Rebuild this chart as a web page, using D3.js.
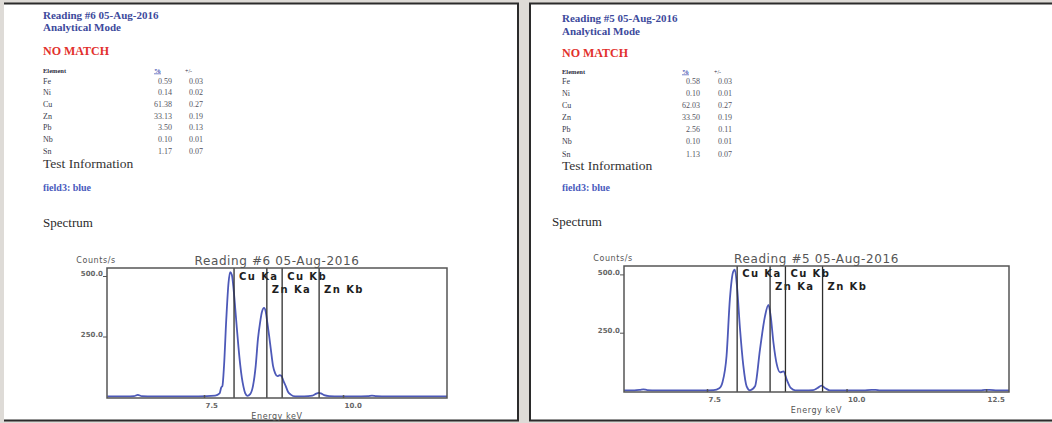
<!DOCTYPE html>
<html>
<head>
<meta charset="utf-8">
<script src="https://cdn.jsdelivr.net/npm/d3@7"></script>
<style>
  html, body { margin: 0; padding: 0; background: #dedbd7; }
  svg { display: block; }
</style>
</head>
<body>
<svg id="chart" width="1052" height="423"></svg>
<script>
// ---- Report headers ----
const readingTitles = ["Reading #6 05-Aug-2016", "Reading #5 05-Aug-2016"];
const modeLabel = "Analytical Mode";
const matchLabel = "NO MATCH";
const fieldLabel = "field3: blue";

// ---- Alloy composition (%, +/-) ----
const elements = ["Fe", "Ni", "Cu", "Zn", "Pb", "Nb", "Sn"];
const percent6 = [0.59, 0.14, 61.38, 33.13, 3.50, 0.10, 1.17];
const error6   = [0.03, 0.02, 0.27, 0.19, 0.13, 0.01, 0.07];
const percent5 = [0.58, 0.10, 62.03, 33.50, 2.56, 0.10, 1.13];
const error5   = [0.03, 0.01, 0.27, 0.19, 0.11, 0.01, 0.07];

// ---- Emission line markers (keV) ----
const lineNames    = ["Cu Ka", "Zn Ka", "Cu Kb", "Zn Kb"];
const lineEnergies = [8.04, 8.63, 8.905, 9.57];
const lineLabelRow = [0, 1, 0, 1];

// ---- Spectrum, reading #6 (keV, counts/s) ----
const energy6 = [5.76, 6.1, 6.24, 6.31, 6.38, 6.6, 7.0, 7.4, 7.7, 7.78, 7.81, 7.83, 7.86, 7.9, 7.94, 7.97,
                 8.0, 8.03, 8.06, 8.09, 8.12, 8.15, 8.18, 8.21, 8.24, 8.28, 8.33, 8.38, 8.43, 8.47, 8.51,
                 8.54, 8.58, 8.61, 8.64, 8.67, 8.7, 8.74, 8.78, 8.82, 8.86, 8.89, 8.93, 8.97, 9.01, 9.06,
                 9.14, 9.3, 9.45, 9.52, 9.56, 9.6, 9.66, 9.75, 9.95, 10.2, 10.45, 10.52, 10.6, 10.8, 11.87];
const counts6 = [3, 3, 4, 9, 4, 3, 3, 3, 6, 15, 40, 45, 130, 320, 470, 516,
                 505, 450, 370, 285, 205, 135, 80, 42, 16, 5, 12, 45, 130, 240, 310,
                 350, 368, 352, 305, 255, 200, 130, 98, 86, 90, 88, 66, 45, 22, 10,
                 3, 3, 6, 14, 17, 15, 8, 4, 3, 3, 4, 6, 4, 3, 3];

// ---- Spectrum, reading #5 (keV, counts/s) ----
const energy5 = [6.013, 6.2, 6.3, 6.36, 6.43, 6.6, 7.0, 7.4, 7.62, 7.72, 7.78, 7.85, 7.91, 7.97, 8.0,
                 8.04, 8.09, 8.15, 8.21, 8.27, 8.36, 8.45, 8.54, 8.6, 8.64, 8.69, 8.75, 8.81, 8.87,
                 8.93, 9.0, 9.08, 9.25, 9.4, 9.48, 9.55, 9.62, 9.7, 9.9, 10.3, 10.45, 10.52, 10.6,
                 11.0, 11.8, 12.4, 12.48, 12.56, 12.7, 12.91];
const counts5 = [3, 3, 5, 7, 4, 3, 3, 3, 4, 12, 40, 150, 395, 512, 520,
                 440, 270, 110, 20, 3, 20, 180, 322, 369, 322, 208, 114, 80, 84,
                 48, 13, 3, 3, 4, 13, 23, 12, 3, 3, 3, 5, 5, 3,
                 3, 3, 3, 5, 5, 3, 3];

// ---- Axis ticks and ranges ----
const xTicks6 = [7.5, 10.0];
const xTicks5 = [7.5, 10.0, 12.5];
const yTicks = [250.0, 500.0];
const xDomain6 = [5.755, 11.87];
const xDomain5 = [6.013, 12.91];
const yDomain6 = [-4, 533];
const yDomain5 = [-4.3, 536];

// ---- Page layout for the two report panels ----
const panels = [
  {
    title: readingTitles[0], pct: percent6, err: error6,
    energy: energy6, counts: counts6, xTicks: xTicks6, xDomain: xDomain6, yDomain: yDomain6,
    box: { x0: 4, x1: 519 }, edge: "right",
    textX: 43, specX: 43, valRight: 172, errRight: 203,
    y: { title: 18.5, mode: 31, match: 54.5, head: 72.5, row0: 83.5, rowStep: 11.67,
         test: 167.5, field: 190.5, spec: 227 },
    plot: { left: 107, right: 447, top: 268, bottom: 398 },
    chartY: { counts: 263, title: 265, energy: 419, lab0: 280, lab1: 293 }
  },
  {
    title: readingTitles[1], pct: percent5, err: error5,
    energy: energy5, counts: counts5, xTicks: xTicks5, xDomain: xDomain5, yDomain: yDomain5,
    box: { x0: 529, x1: 1052 }, edge: "left",
    textX: 562, specX: 552, valRight: 700, errRight: 732,
    y: { title: 21.5, mode: 34.5, match: 56.5, head: 73.5, row0: 83.5, rowStep: 12.17,
         test: 169.5, field: 190.5, spec: 226 },
    plot: { left: 624, right: 1009, top: 266, bottom: 392 },
    chartY: { counts: 261, title: 263, energy: 413, lab0: 277, lab1: 290 }
  }
];

const svg = d3.select("#chart");
const SERIF = "'Liberation Serif', 'Times New Roman', serif";
const SANS = "'DejaVu Sans', Verdana, sans-serif";

panels.forEach((p, i) => {
  const g = svg.append("g");

  // Panel sheet and its borders
  g.append("rect").attr("x", p.box.x0).attr("y", 3)
    .attr("width", p.box.x1 - p.box.x0).attr("height", 418).attr("fill", "#ffffff");
  const border = "#2b2b2b";
  g.append("line").attr("x1", p.box.x0).attr("x2", p.box.x1).attr("y1", 3.5).attr("y2", 3.5)
    .attr("stroke", border).attr("stroke-width", 2);
  g.append("line").attr("x1", p.box.x0).attr("x2", p.box.x1).attr("y1", 420.5).attr("y2", 420.5)
    .attr("stroke", border).attr("stroke-width", 2.2);
  const ex = p.edge === "right" ? p.box.x1 - 1 : p.box.x0 + 1;
  g.append("line").attr("x1", ex).attr("x2", ex).attr("y1", 3).attr("y2", 421)
    .attr("stroke", border).attr("stroke-width", 2);

  // Header block
  const blue = "#3d4a9c";
  g.append("text").attr("x", p.textX).attr("y", p.y.title).text(p.title)
    .attr("font-family", SERIF).attr("font-weight", "bold").attr("font-size", 11).attr("fill", blue);
  g.append("text").attr("x", p.textX).attr("y", p.y.mode).text(modeLabel)
    .attr("font-family", SERIF).attr("font-weight", "bold").attr("font-size", 11).attr("fill", blue);
  g.append("text").attr("x", p.textX).attr("y", p.y.match).text(matchLabel)
    .attr("font-family", SERIF).attr("font-weight", "bold").attr("font-size", 12).attr("fill", "#e2312c");

  // Composition table
  const tbl = g.append("g").attr("font-family", SERIF);
  tbl.append("text").attr("x", p.textX).attr("y", p.y.head).text("Element")
    .attr("font-size", 6.5).attr("font-weight", "bold").attr("fill", "#2f2f3f");
  tbl.append("text").attr("x", p.valRight - 18).attr("y", p.y.head).text("%")
    .attr("font-size", 7).attr("font-weight", "bold").attr("fill", "#4050b0")
    .attr("text-decoration", "underline");
  tbl.append("text").attr("x", p.errRight - 18).attr("y", p.y.head).text("+/-")
    .attr("font-size", 6).attr("fill", "#2f2f3f");
  const rows = tbl.selectAll("g.row").data(elements).join("g").attr("class", "row")
    .attr("transform", (d, k) => `translate(0,${p.y.row0 + k * p.y.rowStep})`)
    .attr("font-size", 8);
  rows.append("text").attr("x", p.textX).attr("fill", "#3a3a4a").text(d => d);
  rows.append("text").attr("x", p.valRight).attr("text-anchor", "end").attr("fill", "#55555f")
    .text((d, k) => d3.format(".2f")(p.pct[k]));
  rows.append("text").attr("x", p.errRight).attr("text-anchor", "end").attr("fill", "#55555f")
    .text((d, k) => d3.format(".2f")(p.err[k]));

  g.append("text").attr("x", p.textX).attr("y", p.y.test).text("Test Information")
    .attr("font-family", SERIF).attr("font-size", 13.5).attr("fill", "#333");
  g.append("text").attr("x", p.textX).attr("y", p.y.field).text(fieldLabel)
    .attr("font-family", SERIF).attr("font-weight", "bold").attr("font-size", 10).attr("fill", "#4a5bbd");
  g.append("text").attr("x", p.specX).attr("y", p.y.spec).text("Spectrum")
    .attr("font-family", SERIF).attr("font-size", 13).attr("fill", "#2a2a2a");

  // ---- Spectrum plot ----
  const x = d3.scaleLinear().domain(p.xDomain).range([p.plot.left, p.plot.right]);
  const y = d3.scaleLinear().domain(p.yDomain).range([p.plot.bottom, p.plot.top]);
  const cx = (p.plot.left + p.plot.right) / 2;
  const chartGray = "#555";

  const clipId = "clip" + i;
  g.append("clipPath").attr("id", clipId).append("rect")
    .attr("x", p.plot.left).attr("y", p.plot.top)
    .attr("width", p.plot.right - p.plot.left).attr("height", p.plot.bottom - p.plot.top);

  const pts = p.energy.map((e, k) => [e, p.counts[k]]);
  g.append("path").datum(pts)
    .attr("clip-path", `url(#${clipId})`)
    .attr("fill", "none").attr("stroke", "#4d59b8").attr("stroke-width", 1.8)
    .attr("d", d3.line().x(d => x(d[0])).y(d => y(d[1])).curve(d3.curveMonotoneX));

  // Emission line markers
  const mk = g.append("g");
  lineEnergies.forEach((e, k) => {
    mk.append("line").attr("x1", x(e)).attr("x2", x(e))
      .attr("y1", p.plot.top).attr("y2", p.plot.bottom)
      .attr("stroke", "#2e2e2e").attr("stroke-width", 1.3);
    mk.append("text").attr("x", x(e) + 5)
      .attr("y", lineLabelRow[k] === 0 ? p.chartY.lab0 : p.chartY.lab1)
      .text(lineNames[k])
      .attr("font-family", SANS).attr("font-weight", "bold").attr("font-size", 10)
      .attr("letter-spacing", 1.4).attr("fill", "#1e1e1e");
  });

  // Plot frame
  g.append("rect").attr("x", p.plot.left).attr("y", p.plot.top)
    .attr("width", p.plot.right - p.plot.left).attr("height", p.plot.bottom - p.plot.top)
    .attr("fill", "none").attr("stroke", chartGray).attr("stroke-width", 1.5);

  // Axes
  const xAxis = g.append("g").attr("transform", `translate(0,${p.plot.bottom})`)
    .call(d3.axisBottom(x).tickValues(p.xTicks).tickFormat(d3.format(".1f"))
      .tickSizeInner(-3).tickSizeOuter(0).tickPadding(0));
  xAxis.select(".domain").remove();
  xAxis.selectAll("line").attr("stroke", chartGray).attr("stroke-width", 1.5);
  xAxis.selectAll("text").attr("text-anchor", "start").attr("dx", 1).attr("dy", 0).attr("y", 9.5)
    .attr("font-family", SANS).attr("font-size", 7).attr("font-weight", "bold").attr("fill", "#666");

  const yAxis = g.append("g").attr("transform", `translate(${p.plot.left},0)`)
    .call(d3.axisLeft(y).tickValues(yTicks).tickFormat(d3.format(".1f"))
      .tickSizeInner(4).tickSizeOuter(0).tickPadding(0));
  yAxis.select(".domain").remove();
  yAxis.selectAll("line").attr("stroke", chartGray).attr("stroke-width", 1);
  yAxis.selectAll("text").attr("dy", 0)
    .attr("font-family", SANS).attr("font-size", 7).attr("font-weight", "bold").attr("fill", "#666");

  // Chart labels
  g.append("text").attr("x", p.plot.left - 11).attr("y", p.chartY.counts).attr("text-anchor", "middle")
    .text("Counts/s").attr("font-family", SANS).attr("font-size", 8).attr("letter-spacing", 0.6)
    .attr("fill", "#555");
  g.append("text").attr("x", cx).attr("y", p.chartY.title).attr("text-anchor", "middle")
    .text(p.title).attr("font-family", SANS).attr("font-size", 12).attr("letter-spacing", 0.6)
    .attr("fill", "#555");
  g.append("text").attr("x", cx).attr("y", p.chartY.energy).attr("text-anchor", "middle")
    .text("Energy keV").attr("font-family", SANS).attr("font-size", 8).attr("letter-spacing", 0.6)
    .attr("fill", "#555");
});
</script>
</body>
</html>
